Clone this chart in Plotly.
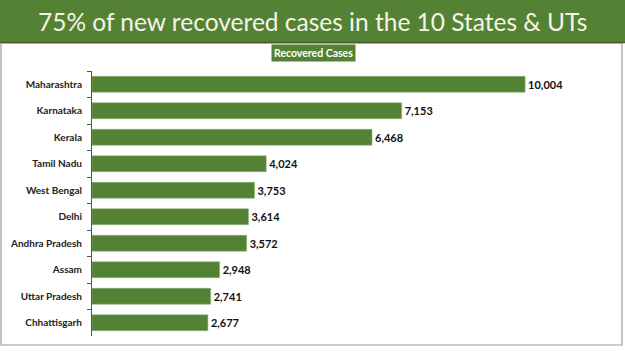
import plotly.graph_objects as go

states = ["Maharashtra", "Karnataka", "Kerala", "Tamil Nadu", "West Bengal", "Delhi",
          "Andhra Pradesh", "Assam", "Uttar Pradesh", "Chhattisgarh"]
recovered = [10004, 7153, 6468, 4024, 3753, 3614, 3572, 2948, 2741, 2677]
title_text = "75% of new recovered cases in the 10 States & UTs"
series_name = "Recovered Cases"

W, H = 625, 351
GREEN = "#548235"

def px(x):
    return x / W

def py(y):
    return 1 - y / H

fig = go.Figure(go.Bar(
    x=recovered, y=states, orientation="h",
    marker=dict(color=GREEN, line=dict(color="#8fb07a", width=0.6)),
    width=0.6,
    text=recovered, texttemplate="%{x:,}", textposition="outside",
    textfont=dict(family="Lato", size=11, color="#111111", weight="bold"),
    cliponaxis=False, name=series_name,
))

fig.update_layout(
    width=W, height=H, margin=dict(l=0, r=0, t=0, b=0),
    paper_bgcolor="white", plot_bgcolor="white", showlegend=False,
    font=dict(family="Lato", color="#222222"),
    xaxis=dict(domain=[px(92), px(605)], range=[0, 11850], visible=False, automargin=False),
    yaxis=dict(domain=[py(336), py(71)], categoryorder="array", categoryarray=states,
               autorange="reversed", automargin=False, showline=True, linecolor="#555555",
               linewidth=1, ticks="outside", ticklen=4, tickcolor="#555555",
               tickson="boundaries", showgrid=False, ticklabelstandoff=7,
               tickfont=dict(family="Lato", size=10, color="#222222", weight="bold")),
    shapes=[
        dict(type="rect", xref="paper", yref="paper", x0=px(1), x1=px(622), y0=py(345), y1=py(43),
             line=dict(color="#9a9a9a", width=1.2), fillcolor="rgba(0,0,0,0)", layer="below"),
        dict(type="rect", xref="paper", yref="paper", x0=0, x1=1, y0=py(42), y1=1,
             line=dict(width=0), fillcolor=GREEN, layer="below"),
        dict(type="line", xref="paper", yref="paper", x0=0, x1=1, y0=py(42.5), y1=py(42.5),
             line=dict(color="#4a5a2a", width=1.5)),
    ],
    annotations=[
        dict(text=title_text, xref="paper", yref="paper", x=0.5, y=py(21), xanchor="center",
             yanchor="middle", showarrow=False,
             font=dict(family="Lato", size=24.5, color="#f4f4e6")),
        dict(text="<b>" + series_name + "</b>", xref="paper", yref="paper", x=px(313), y=py(53.5),
             xanchor="center", yanchor="middle", showarrow=False, bgcolor=GREEN,
             borderpad=2, font=dict(family="Lato", size=10.5, color="white")),
    ],
)
fig.write_html("out.html")
